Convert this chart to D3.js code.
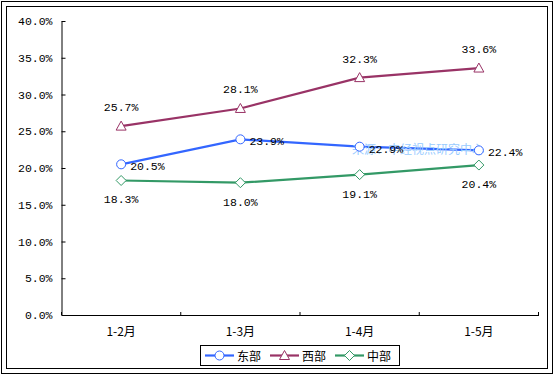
<!DOCTYPE html>
<meta charset="utf-8">
<script src="https://d3js.org/d3.v7.min.js"></script>
<style>
body { margin: 0; background: #fff; }
text { font-family: "Liberation Mono", "Noto Sans CJK SC", monospace; font-size: 11.5px; fill: #000; }
.cjk { font-family: "Noto Sans CJK SC", sans-serif; font-size: 12px; }
</style>
<body>
<script>

// data
var months = ["1-2月", "1-3月", "1-4月", "1-5月"]
var east = [20.5, 23.9, 22.9, 22.4]
var west = [25.7, 28.1, 32.3, 33.6]
var central = [18.3, 18.0, 19.1, 20.4]
var yTicks = [0, 5, 10, 15, 20, 25, 30, 35, 40]
var seriesNames = ["东部", "西部", "中部"]
var watermark = "来源：中经视点研究中心"

var width = 555
var height = 376

var svg = d3.select("body").append("svg")
            .attr("width", width)
            .attr("height", height)

// double frame
svg.append("rect").attr("x", 1.5).attr("y", 1.5).attr("width", 551).attr("height", 372)
   .attr("fill", "none").attr("stroke", "#000").attr("stroke-width", 1)
svg.append("rect").attr("x", 6.5).attr("y", 6.5).attr("width", 541).attr("height", 362)
   .attr("fill", "none").attr("stroke", "#000").attr("stroke-width", 1)

// scales
var x = d3.scaleBand().domain(months).range([61.5, 538.5])
var y = d3.scaleLinear().domain([0, 40]).range([315, 21])
var cx = function(d, i) { return x(months[i]) + x.bandwidth() / 2 }

// y axis
var yAxis = svg.append("g")
    .attr("transform", "translate(61.5,0)")
    .call(d3.axisLeft(y).tickValues(yTicks).tickSizeInner(-4).tickSizeOuter(0)
            .tickFormat(function(d) { return d3.format(".1f")(d) + "%" }))
yAxis.select(".domain").attr("stroke", "#000")
yAxis.selectAll("line").attr("stroke", "#000")
yAxis.selectAll("text").attr("x", -9).attr("font-family", null).attr("font-size", null)

// x axis
var xAxis = svg.append("g")
    .attr("transform", "translate(0,315)")
    .call(d3.axisBottom(x).tickSize(0).tickSizeOuter(0))
xAxis.select(".domain").attr("stroke", "#000")
xAxis.selectAll("text").attr("y", 12).attr("font-family", null).attr("font-size", null)
    .attr("class", "cjk")
// category boundary ticks
xAxis.selectAll(".bt").data(months.concat([null])).enter().append("line")
    .attr("x1", function(d, i) { return 61.5 + i * x.bandwidth() })
    .attr("x2", function(d, i) { return 61.5 + i * x.bandwidth() })
    .attr("y1", 0).attr("y2", -3).attr("stroke", "#000")

var line = d3.line().x(cx).y(function(d) { return y(d) })

var series = [
  {name: seriesNames[0], data: east, color: "#3366ff", shape: "circle"},
  {name: seriesNames[1], data: west, color: "#993366", shape: "triangle"},
  {name: seriesNames[2], data: central, color: "#339966", shape: "diamond"}
]

function marker(g, shape, color) {
  if (shape == "circle") {
    g.append("circle").attr("r", 4.5).attr("fill", "#fff").attr("stroke", color)
  } else if (shape == "triangle") {
    g.append("path").attr("d", "M0,-5L5,4L-5,4Z").attr("fill", "#fff").attr("stroke", color)
  } else {
    g.append("path").attr("d", "M0,-5L5,0L0,5L-5,0Z").attr("fill", "#fff").attr("stroke", color)
  }
}

series.forEach(function(s) {
  svg.append("path").attr("d", line(s.data)).attr("fill", "none")
     .attr("stroke", s.color).attr("stroke-width", 2.2)
})

// watermark
svg.append("text").attr("class", "cjk").attr("x", 352).attr("y", 154)
   .attr("fill", "#99ccff").style("fill", "#99ccff").text(watermark)

series.forEach(function(s) {
  s.data.forEach(function(d, i) {
    var g = svg.append("g").attr("transform", "translate(" + cx(d, i) + "," + y(d) + ")")
    marker(g, s.shape, s.color)
  })
})

// value labels
var fmt = function(d) { return d3.format(".1f")(d) + "%" }
west.forEach(function(d, i) {
  svg.append("text").attr("x", cx(d, i)).attr("y", y(d) - 15).attr("text-anchor", "middle").text(fmt(d))
})
east.forEach(function(d, i) {
  svg.append("text").attr("x", cx(d, i) + 9).attr("y", y(d) + 6).text(fmt(d))
})
central.forEach(function(d, i) {
  svg.append("text").attr("x", cx(d, i)).attr("y", y(d) + 23).attr("text-anchor", "middle").text(fmt(d))
})

// legend
var legend = svg.append("g")
svg.append("rect").attr("x", 200.5).attr("y", 345.5).attr("width", 199).attr("height", 20)
   .attr("fill", "#fff").attr("stroke", "#000")
var lx = [205, 270, 335]
series.forEach(function(s, i) {
  var g = svg.append("g").attr("transform", "translate(" + lx[i] + ",355.5)")
  g.append("line").attr("x1", 0).attr("x2", 29).attr("stroke", s.color).attr("stroke-width", 2.2)
  var m = g.append("g").attr("transform", "translate(14.5,0)")
  marker(m, s.shape, s.color)
  g.append("text").attr("class", "cjk").attr("x", 32).attr("y", 5).text(s.name)
})

</script>
</body>
